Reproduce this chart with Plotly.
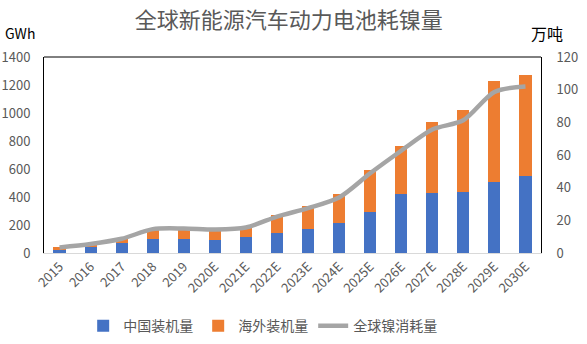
import plotly.graph_objects as go

years = ["2015", "2016", "2017", "2018", "2019", "2020E", "2021E", "2022E",
         "2023E", "2024E", "2025E", "2026E", "2027E", "2028E", "2029E", "2030E"]
china_gwh = [24, 40, 69, 102, 102, 95, 116, 146, 171, 214, 293, 421, 428, 435, 507, 550]
total_gwh = [45, 60, 100, 172, 170, 170, 190, 268, 335, 421, 593, 764, 935, 1021, 1228, 1271]
overseas_gwh = [t - c for t, c in zip(total_gwh, china_gwh)]
nickel_wt = [3.4, 5.5, 8.7, 14.6, 15.0, 14.4, 15.6, 22.3, 27.5, 34.0, 48.8, 62.6, 75.6, 81.3, 98.6, 102.0]

FONT = "Noto Sans CJK SC"
GRAY = "#595959"

fig = go.Figure()
fig.add_trace(go.Bar(x=years, y=china_gwh, name="中国装机量", marker_color="#4472C4",
                     marker_line_width=0))
fig.add_trace(go.Bar(x=years, y=overseas_gwh, name="海外装机量", marker_color="#ED7D31",
                     marker_line_width=0))
fig.add_trace(go.Scatter(x=years, y=nickel_wt, name="全球镍消耗量", yaxis="y2",
                         mode="lines", line=dict(color="#A5A5A5", width=4.5, shape="spline",
                                                 smoothing=0.8)))

fig.update_layout(
    width=587, height=344,
    margin=dict(l=44, r=46, t=57, b=91, autoexpand=False),
    paper_bgcolor="white", plot_bgcolor="white",
    barmode="stack", bargap=0.61,
    font=dict(family=FONT, color=GRAY, size=13),
    title=dict(text="全球新能源汽车动力电池耗镍量", x=0.492, xanchor="center",
               y=0.94, yanchor="middle", font=dict(size=22, color=GRAY, family=FONT)),
    xaxis=dict(showgrid=False, showline=True, linecolor="#D9D9D9", linewidth=1,
               tickangle=-45, tickfont=dict(size=13, color=GRAY), ticks="",
               automargin=False),
    yaxis=dict(range=[0, 1400], dtick=200, showgrid=False, zeroline=False,
               showline=True, linecolor="black", linewidth=1, ticks="",
               ticklabelstandoff=10, tickfont=dict(size=13, color=GRAY),
               automargin=False),
    yaxis2=dict(range=[0, 120], dtick=20, overlaying="y", side="right",
                showgrid=False, zeroline=False, showline=True, linecolor="black",
                linewidth=1, ticks="", ticklabelstandoff=12,
                tickfont=dict(size=13, color=GRAY), automargin=False),
    legend=dict(orientation="h", x=0.44, xanchor="center", y=0.052, yanchor="middle",
                yref="container", font=dict(size=14, color=GRAY), itemwidth=30,
                traceorder="normal"),
    showlegend=True,
)

fig.add_shape(type="line", xref="paper", yref="paper", x0=0, x1=1, y0=1, y1=1,
              line=dict(color="black", width=1))

fig.add_annotation(text="GWh", xref="paper", yref="paper", x=-0.083, y=1.12,
                   xanchor="left", yanchor="middle", showarrow=False,
                   font=dict(size=14, color="black", family=FONT))
fig.add_annotation(text="万吨", xref="paper", yref="paper", x=0.976, y=1.12,
                   xanchor="left", yanchor="middle", showarrow=False,
                   font=dict(size=16, color="black", family=FONT))

fig.write_html("out.html")
